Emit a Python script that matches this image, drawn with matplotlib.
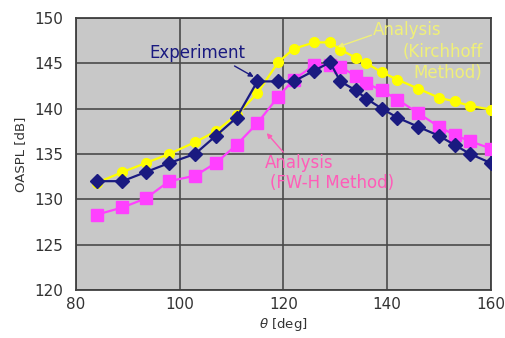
import numpy as np
import matplotlib
matplotlib.use("Agg")
import matplotlib.pyplot as plt

theta = [84, 89, 93.5, 98, 103, 107, 111, 115, 119, 122, 126, 129, 131, 134, 136, 139, 142, 146, 150, 153, 156, 160]
experiment = [132, 132, 133, 134, 135, 137, 139, 143, 143, 143, 144.2, 145.1, 143, 142, 141.1, 140, 139, 138, 137, 136, 135, 134]
kirchhoff = [131.8, 133, 134, 135, 136.3, 137.5, 139.3, 141.7, 145.1, 146.6, 147.3, 147.3, 146.5, 145.6, 145, 144, 143.2, 142.2, 141.2, 140.8, 140.3, 139.9]
fwh = [128.3, 129.1, 130.1, 132, 132.6, 134, 136, 138.4, 141.3, 143.2, 144.8, 144.8, 144.6, 143.6, 142.8, 142, 141, 139.5, 138, 137.1, 136.4, 135.6]

plt.rcParams['font.family'] = ['Liberation Sans Narrow', 'DejaVu Sans']

fig = plt.figure(figsize=(5.05, 3.38), dpi=100)
ax = fig.add_axes([0.150, 0.142, 0.822, 0.805])
ax.set_facecolor('#c8c8c8')

navy = '#1a1a80'
yellow = '#ffff00'
magenta = '#ff40ff'

ax.plot(theta, kirchhoff, color=yellow, marker='o', markersize=7, lw=1.6, zorder=3)
ax.plot(theta, fwh, color=magenta, marker='s', markersize=8, lw=1.6, zorder=4)
ax.plot(theta, experiment, color=navy, marker='D', markersize=7, lw=1.6, zorder=5)

ax.set_xlim(80, 160)
ax.set_ylim(120, 150)
ax.set_xticks([80, 100, 120, 140, 160])
ax.set_yticks([120, 125, 130, 135, 140, 145, 150])
ax.grid(True, color='#4a4a4a', lw=1.2)
ax.set_axisbelow(True)
ax.tick_params(length=0, labelsize=11, colors='#333333')
ax.tick_params(axis='y', pad=9)
ax.tick_params(axis='x', pad=5)
for s in ax.spines.values():
    s.set_color('#404040')
    s.set_linewidth(1.3)

ax.set_ylabel('OASPL [dB]', fontsize=9.5, color='#333333', labelpad=5)
ax.set_xlabel(r'$\theta$ [deg]', fontsize=9.5, color='#333333', labelpad=3)

fs = 12
fam = ['DejaVu Sans']
kcol = '#f0f078'
pcol = '#ff5cb8'

# Experiment label
ax.text(94.1, 145.6, 'Experiment', fontsize=fs, color=navy, family=fam, va='baseline')
ax.annotate('', xy=(114.3, 143.5), xytext=(110.6, 144.7),
            arrowprops=dict(arrowstyle='-|>', color=navy, lw=1, mutation_scale=7,
                            shrinkA=0, shrinkB=0))

# Kirchhoff label
ax.text(137.2, 148.1, 'Analysis', fontsize=fs, color=kcol, family=fam, va='baseline')
ax.text(158.4, 145.7, '(Kirchhoff', fontsize=fs, color=kcol, family=fam, va='baseline', ha='right')
ax.text(158.4, 143.4, 'Method)', fontsize=fs, color=kcol, family=fam, va='baseline', ha='right')
ax.annotate('', xy=(130.5, 146.8), xytext=(137.0, 148.1),
            arrowprops=dict(arrowstyle='-|>', color=kcol, lw=1, mutation_scale=7,
                            shrinkA=0, shrinkB=0))

# FW-H label
ax.text(116.4, 133.5, 'Analysis', fontsize=fs, color=pcol, family=fam, va='baseline')
ax.text(117.4, 131.3, '(FW-H Method)', fontsize=fs, color=pcol, family=fam, va='baseline')
ax.annotate('', xy=(116.8, 137.3), xytext=(120.0, 135.2),
            arrowprops=dict(arrowstyle='-|>', color=pcol, lw=1, mutation_scale=7,
                            shrinkA=0, shrinkB=0))

fig.savefig('out.png', dpi=100)
